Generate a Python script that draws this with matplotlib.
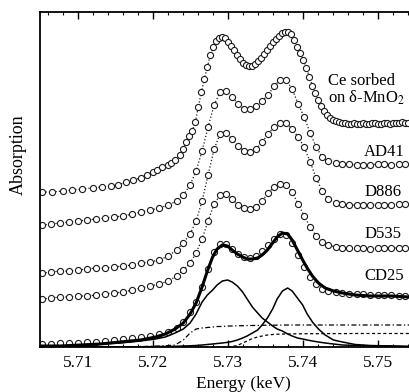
import numpy as np
import matplotlib
matplotlib.use("Agg")
import matplotlib.pyplot as plt
from matplotlib.ticker import MultipleLocator

plt.rcParams["font.family"] = ["Liberation Serif", "DejaVu Serif"]
plt.rcParams["mathtext.fontset"] = "stix"

# Ce sorbed on delta-MnO2 (finer scan)
e_mno2 = [5.7052, 5.7065, 5.7079, 5.7092, 5.7105, 5.7119, 5.7131, 5.7143, 5.7153, 5.7164,
          5.7173, 5.7183, 5.7191, 5.7199, 5.7205, 5.7212, 5.7219, 5.7224, 5.7229, 5.7235,
          5.7240, 5.7244, 5.7248, 5.7252, 5.7256, 5.7260, 5.7264, 5.7268, 5.7272, 5.7276,
          5.7280, 5.7284, 5.7288, 5.7292, 5.7296, 5.7300, 5.7304, 5.7308, 5.7312, 5.7316,
          5.7320, 5.7324, 5.7328, 5.7332, 5.7336, 5.7340, 5.7344, 5.7348, 5.7352, 5.7356,
          5.7360, 5.7364, 5.7368, 5.7372, 5.7376, 5.7380, 5.7384, 5.7388, 5.7392, 5.7396,
          5.7400, 5.7404, 5.7408, 5.7412, 5.7416, 5.7420, 5.7424, 5.7428, 5.7432, 5.7436,
          5.7440, 5.7444, 5.7448, 5.7452, 5.7456, 5.7460, 5.7464, 5.7468, 5.7472, 5.7476,
          5.7480, 5.7484, 5.7488, 5.7492, 5.7496, 5.7500, 5.7504, 5.7508, 5.7512, 5.7516,
          5.7520, 5.7524, 5.7528, 5.7532, 5.7536, 5.7540]
mu_mno2 = [155, 155, 156, 157, 158, 159, 160, 161, 162, 165,
           167, 169, 172, 175, 177, 180, 182, 184, 187, 192,
           198, 205, 211, 216, 225, 240, 255, 268, 280, 292,
           300, 306, 309, 310, 309, 305, 301, 297, 292, 288,
           284, 282, 281, 281, 283, 286, 289, 293, 297, 301,
           305, 308, 311, 314, 315, 315, 313, 307, 300, 294,
           287, 279, 270, 261, 254, 247, 241, 236, 232, 229,
           227, 226, 225, 224, 224, 223, 223, 224, 223, 223,
           224, 223, 223, 224, 224, 223, 223, 224, 224, 223,
           224, 224, 224, 225, 224, 224]

# mineral samples share one energy grid
e_std = [5.7052, 5.7064, 5.7076, 5.7088, 5.7100, 5.7112, 5.7124, 5.7136, 5.7148, 5.7160,
         5.7172, 5.7184, 5.7196, 5.7208, 5.7220, 5.7231, 5.7240, 5.7249, 5.7257, 5.7265,
         5.7273, 5.7281, 5.7289, 5.7297, 5.7305, 5.7313, 5.7321, 5.7329, 5.7337, 5.7345,
         5.7353, 5.7361, 5.7369, 5.7377, 5.7385, 5.7393, 5.7401, 5.7409, 5.7417, 5.7425,
         5.7433, 5.7443, 5.7452, 5.7461, 5.7471, 5.7480, 5.7489, 5.7499, 5.7508, 5.7517,
         5.7527, 5.7536]
mu_ad41 = [122, 123, 124, 125, 126, 127, 128, 129, 130, 131,
           133, 135, 137, 139, 142, 146, 152, 162, 176, 196,
           220, 242, 255, 256, 250, 243, 238, 238, 241, 246,
           252, 261, 267, 267, 258, 243, 230, 214, 200, 190,
           186, 184, 183, 183, 182, 182, 182, 183, 183, 182,
           183, 183]
mu_d886 = [74, 75, 76, 76, 77, 78, 79, 79, 80, 81,
           82, 84, 85, 87, 91, 97, 104, 113, 126, 146,
           172, 198, 213, 214, 208, 201, 196, 195, 198, 205,
           213, 220, 224, 224, 218, 210, 200, 185, 169, 156,
           148, 144, 143, 142, 142, 142, 142, 142, 142, 142,
           143, 143]
mu_d535 = [48, 49, 50, 50, 51, 51, 52, 53, 54, 55,
           57, 59, 61, 63, 66, 71, 77, 84, 94, 108,
           126, 143, 152, 153, 148, 142, 139, 138, 140, 146,
           154, 160, 163, 162, 155, 143, 131, 120, 111, 105,
           102, 100, 99, 99, 99, 99, 98, 99, 99, 99,
           99, 99]
mu_cd25 = [3, 3, 4, 4, 4, 5, 5, 6, 7, 8,
           9, 10, 11, 13, 15, 19, 25, 35, 45, 60,
           78, 95, 103, 103, 98, 93, 90, 89, 91, 96,
           102, 108, 113, 112, 104, 92, 80, 70, 63, 58,
           56, 55, 54, 53, 53, 53, 52, 52, 52, 52,
           51, 51]

# CD25 fit and its components
e_fit = [5.7052, 5.7076, 5.7103, 5.7129, 5.7156, 5.7183, 5.7203, 5.7216, 5.7229, 5.7240,
         5.7249, 5.7257, 5.7265, 5.7272, 5.7279, 5.7285, 5.7292, 5.7299, 5.7305, 5.7312,
         5.7319, 5.7325, 5.7332, 5.7339, 5.7345, 5.7352, 5.7359, 5.7365, 5.7372, 5.7379,
         5.7385, 5.7392, 5.7399, 5.7405, 5.7412, 5.7420, 5.7429, 5.7440, 5.7452, 5.7469,
         5.7489, 5.7516, 5.7541]
fit_total = [1, 1, 2, 3, 5, 7, 10, 13, 18, 24,
             33, 44, 60, 76, 90, 98, 102, 101, 97, 93,
             90, 88, 88, 89, 92, 97, 104, 110, 114, 113,
             107, 97, 87, 79, 71, 64, 59, 56, 54, 52,
             51, 51, 50]
peak_a = [1, 1, 2, 3, 4, 6, 8, 10, 14, 18,
          24, 33, 45, 52, 57, 62, 66, 67, 65, 61,
          55, 48, 40, 34, 29, 25, 21, 18, 16, 13,
          11, 9, 8, 7, 6, 5, 4, 3, 2, 1.5,
          1, 1, 0.5]
peak_b = [0, 0, 0, 0, 0, 0, 0.5, 0.5, 0.7, 1,
          1.2, 1.5, 2, 2.5, 3, 3.5, 4, 4.7, 5.5, 7,
          9, 11, 14, 17, 22, 29, 38, 48, 56, 59,
          56, 49, 42, 33, 25, 18, 12, 7, 5, 2.5,
          1.5, 1, 0.5]
step_a = [0, 0, 0, 0, 0, 0.5, 0.8, 1.2, 2, 7,
          14, 18, 19, 19.5, 20, 20.5, 20.5, 21, 21, 21.2,
          21.3, 21.4, 21.5, 21.6, 21.7, 21.8, 21.8, 21.9, 21.9, 22,
          22, 22, 22, 22, 22, 22, 22, 22, 22, 22,
          22, 22, 22]
step_b = [0, 0, 0, 0, 0, 0, 0, 0, 0, 0,
          0, 0, 0, 0, 0, 0, 0, 0, 0.5, 1.5,
          4, 6, 8.5, 10, 11, 12, 12.5, 12.8, 13, 13,
          13.1, 13.2, 13.2, 13.3, 13.3, 13.3, 13.4, 13.4, 13.4, 13.5,
          13.5, 13.5, 13.5]

labels = ["Ce sorbed\non δ-MnO$_2$", "AD41", "D886", "D535", "CD25"]
label_x = [5.7433, 5.7481, 5.7481, 5.7481, 5.7481]
label_y = [257, 195, 155, 113, 71]

fig = plt.figure(figsize=(4.09, 3.92), dpi=100)
ax = fig.add_axes([40 / 409, 45 / 392, 406 / 409, 335 / 392])

mk = dict(marker="o", ms=4.4, mfc="white", mec="#1a1a1a", mew=0.8)
for e, mu in [(e_mno2, mu_mno2), (e_std, mu_ad41), (e_std, mu_d886), (e_std, mu_d535)]:
    ax.plot(e, mu, ls=":", lw=0.9, color="#1a1a1a", **mk)

ax.plot(e_std, mu_cd25, ls="none", **mk)
ax.plot(e_fit, fit_total, color="black", lw=2.2, zorder=4)
ax.plot(e_fit, peak_a, color="black", lw=1.1)
ax.plot(e_fit, peak_b, color="black", lw=1.1)
ax.plot(e_fit, step_a, color="black", lw=0.9, ls=(0, (4, 2, 1, 2)))
ax.plot(e_fit, step_b, color="black", lw=0.9, ls=(0, (2.5, 2)))

for s, x, y in zip(labels, label_x, label_y):
    ax.text(x, y, s, fontsize=12, ha="left", va="center", linespacing=1.0)

ax.set_xlim(5.7049, 5.7590)
ax.set_ylim(0, 335)
ax.set_yticks([])
ax.xaxis.set_major_locator(MultipleLocator(0.01))
ax.xaxis.set_minor_locator(MultipleLocator(0.002))
ax.xaxis.set_major_formatter(matplotlib.ticker.FormatStrFormatter("%.2f"))
ax.tick_params(axis="x", which="both", direction="in", top=True, labelsize=12.5, pad=6)
ax.tick_params(axis="x", which="major", length=5, width=1)
ax.tick_params(axis="x", which="minor", length=2.5, width=0.8)
for sp in ax.spines.values():
    sp.set_linewidth(1.3)

ax.set_xlabel("Energy (keV)", fontsize=12.5, labelpad=3)
ax.set_ylabel("Absorption", fontsize=13)
ax.yaxis.set_label_coords(-0.032, 0.573)

fig.savefig("out.png", dpi=100)
